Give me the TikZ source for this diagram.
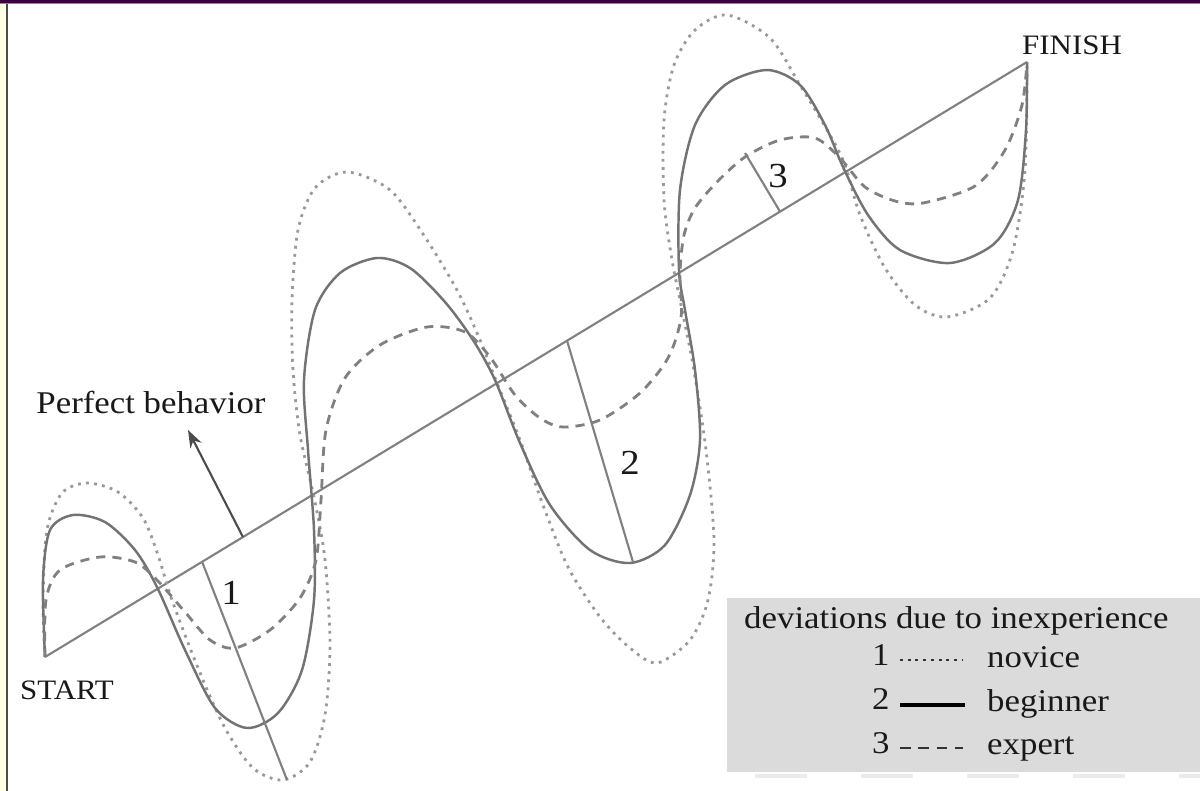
\documentclass[tikz,border=0pt]{standalone}
\usepackage{fontspec}
\setmainfont{Liberation Serif}[FakeStretch=1.1]
\usetikzlibrary{arrows.meta,calc}

\begin{document}
\begin{tikzpicture}[x=0.01cm,y=-0.01cm,
  every node/.style={font=\fontsize{9}{11}\selectfont,text=black!90,inner sep=1pt},
  baseline/.style={black!50,line width=0.6pt},
  novice/.style={black!40,line width=0.8pt,dash pattern=on 0.8pt off 1.5pt},
  beginner/.style={black!55,line width=0.7pt},
  expert/.style={black!50,line width=0.8pt,dash pattern=on 2.6pt off 2pt},
  endlabel/.style={font=\fontsize{8}{10}\selectfont},
  devlabel/.style={font=\fontsize{10}{12}\selectfont}]
\useasboundingbox (0,0) rectangle (1200,791);
% frame of the screenshot
\fill[yellow!10] (0,0) rectangle (6,791);
\fill[black!70] (6,0) rectangle (8,791);
\fill[violet!50!black] (0,0) rectangle (1200,3);
\fill[black!45] (0,3) rectangle (1200,4.5);
% legend box
\fill[black!14] (727,598) rectangle (1200,772);
\draw[black!8,line width=1pt,dash pattern=on 0.52cm off 0.54cm] (755,776) -- (1200,776);
% perfect behaviour
\coordinate (start) at (45,657);
\coordinate (finish) at (1027,62);
\draw[baseline] (start) -- (finish);
\node[endlabel] (startlbl) at (67,690) {START};
\node[endlabel] (finishlbl) at (1072,45) {FINISH};
\node (perfect) at (151,403) {Perfect behavior};
\coordinate (arrowtip) at (188,430);
\draw[baseline,-{Stealth[length=5pt,width=3.6pt]},black!70] ($(start)!0.2016!(finish)$) -- (arrowtip);
% novice
\draw[novice] plot[smooth] coordinates {(45,657) (43,600) (47,530) (62,493) (87,483) (118,492)
  (143,518) (158,555) (172,600) (198,668) (225,728) (253,768) (283,780) (310,762) (325,715) (330,645)
  (325,560) (314,497) (300,435) (293,370) (292,300) (298,230) (315,188) (347,172) (390,190) (425,237)
  (458,292) (480,340) (497,383) (520,440) (543,505) (568,567) (600,617) (630,648) (657,663) (690,640)
  (708,600) (714,540) (706,450) (693,365) (680,300) (672,260) (664,200) (664,120) (674,65) (695,30)
  (727,15) (770,38) (800,85) (830,135) (845,165) (860,215) (885,268) (915,305) (947,317) (990,298)
  (1013,250) (1025,170) (1027,62)};
% beginner
\draw[beginner] plot[smooth] coordinates {(45,657) (43,580) (50,530) (73,515) (105,522) (135,550)
  (157,587) (185,650) (215,708) (247,728) (278,713) (302,670) (314,600) (314,530) (308,450) (304,380)
  (315,310) (340,273) (377,258) (410,268) (445,302) (473,340) (495,380) (520,443) (550,505) (590,550)
  (630,563) (665,545) (690,495) (700,440) (695,370) (685,310) (679,270) (680,190) (695,125) (725,85)
  (767,70) (800,85) (825,125) (843,167) (868,215) (900,250) (950,263) (995,243) (1018,200) (1026,130)
  (1027,62)};
% expert
\draw[expert] plot[smooth] coordinates {(45,657) (46,600) (60,570) (100,557) (135,562) (157,580)
  (185,612) (210,640) (235,648) (270,630) (300,598) (316,560) (321,500) (326,430) (345,378) (380,345)
  (427,327) (465,332) (490,357) (515,395) (540,418) (563,427) (600,420) (640,393) (668,358) (681,318)
  (680,273) (684,235) (695,208) (717,182) (745,157) (780,140) (815,138) (840,158) (865,187) (895,201)
  (923,203) (975,186) (1005,150) (1022,105) (1027,62)};
% deviations
\coordinate (devA) at ($(start)!0.16!(finish)$);
\coordinate (devB) at ($(start)!0.5316!(finish)$);
\coordinate (devC) at ($(start)!0.7485!(finish)$);
\draw[baseline] (devA) -- (287,780);
\draw[baseline] (devB) -- (633,562);
\draw[baseline] (devC) -- (745,153);
\node[devlabel] (lbl1) at (231,593) {1};
\node[devlabel] (lbl2) at (630,463) {2};
\node[devlabel] (lbl3) at (778,176) {3};
% legend
\node[anchor=base west] (legtitle) at (740,628) {deviations due to inexperience};
\node[anchor=base west] (leg1) at (868,665) {1};
\node[anchor=base west] (leg2) at (868,709) {2};
\node[anchor=base west] (leg3) at (868,753) {3};
\node[anchor=base west] (legnov) at (983,667) {novice};
\node[anchor=base west] (legbeg) at (983,711) {beginner};
\node[anchor=base west] (legexp) at (983,754) {expert};
\draw[black!80,line width=0.7pt,dash pattern=on 0.8pt off 1.4pt] (900,660) -- (963,660);
\draw[black,line width=1.4pt] (900,705) -- (965,705);
\draw[black!80,line width=0.8pt,dash pattern=on 3pt off 2.2pt] (900,748) -- (963,748);
\end{tikzpicture}
\end{document}
